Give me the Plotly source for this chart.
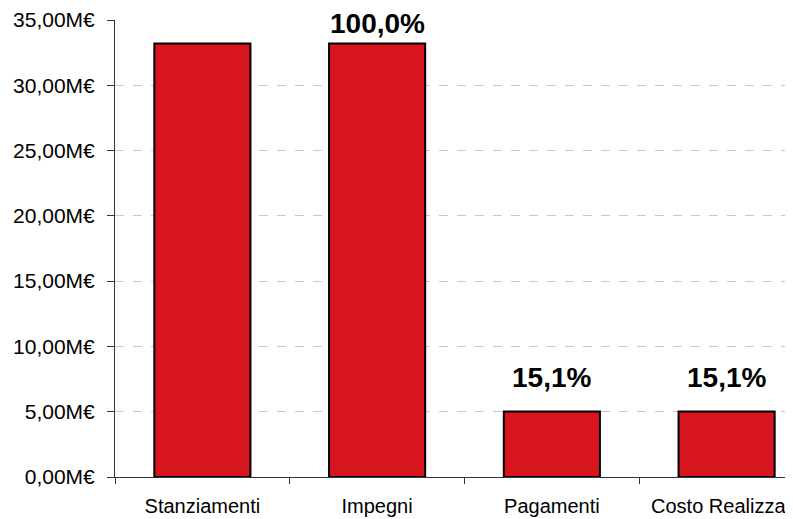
import plotly.graph_objects as go

# data (values in millions of euro)
categories = ["Stanziamenti", "Impegni", "Pagamenti", "Costo Realizzato"]
values = [33.2, 33.2, 5.02, 5.02]
pct_labels = ["", "100,0%", "15,1%", "15,1%"]
label_shift = [0, 2, 16, 16]

y_ticks = [0, 5, 10, 15, 20, 25, 30, 35]
y_tick_text = ["0,00M€", "5,00M€", "10,00M€", "15,00M€", "20,00M€",
               "25,00M€", "30,00M€", "35,00M€"]

bar_red = "#D7161F"

fig = go.Figure()

fig.add_trace(go.Bar(
    x=categories,
    y=values,
    width=0.55,
    marker=dict(color=bar_red, line=dict(color="black", width=2)),
    hoverinfo="skip",
))

# percentage labels above the bars (the first one has none)
for cat, val, txt, sh in zip(categories, values, pct_labels, label_shift):
    if not txt:
        continue
    fig.add_annotation(
        x=cat, y=val, text="<b>" + txt + "</b>",
        showarrow=False, yanchor="bottom", yshift=sh,
        font=dict(family="Liberation Sans, Arial", size=28, color="black"),
    )

# the page body has an 8px margin, so the figure is sized to fit the window
fig.update_layout(
    width=785, height=511,
    margin=dict(l=107, r=0, t=12, b=42),
    paper_bgcolor="white",
    plot_bgcolor="white",
    showlegend=False,
    font=dict(family="Liberation Sans, Arial", size=20, color="black"),
    xaxis=dict(
        range=[-0.5, 3.38],
        automargin=False,
        showgrid=False,
        showline=True, linecolor="#333333", linewidth=1,
        ticks="outside", ticklen=6, tickcolor="#333333",
        tickson="boundaries",
        ticklabelstandoff=11,
    ),
    yaxis=dict(
        range=[0, 35],
        automargin=False,
        tickvals=y_ticks, ticktext=y_tick_text,
        tickfont=dict(size=21),
        showline=True, linecolor="#333333", linewidth=1,
        ticks="outside", ticklen=7, tickcolor="#333333",
        showgrid=True, gridcolor="#C8C8C8", griddash="dash", gridwidth=1,
        zeroline=False,
        ticklabelstandoff=8,
    ),
)

fig.write_html("out.html")
